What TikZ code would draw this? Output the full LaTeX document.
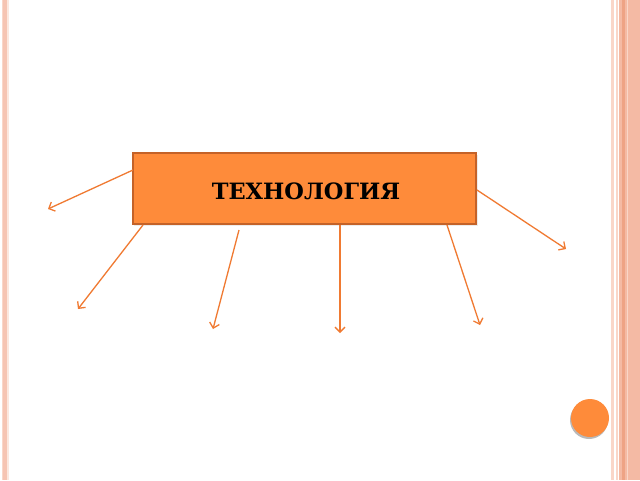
\documentclass[tikz,border=0pt]{standalone}
\usepackage{fontspec}
\newfontfamily\boxfont{DejaVu Serif}
\usetikzlibrary{arrows.meta,calc}
\definecolor{salmon}{RGB}{244,186,164}
\definecolor{salmonlight}{RGB}{250,214,200}
\definecolor{salmondark}{RGB}{238,163,133}
\definecolor{boxfill}{RGB}{254,139,58}
\definecolor{boxedge}{RGB}{196,98,40}
\definecolor{arrowc}{RGB}{240,122,50}
\begin{document}
\begin{tikzpicture}[x=1pt,y=-1pt,
  conn/.style={draw=arrowc,line width=1.3pt,-{Straight Barb[length=5pt,width=10pt]}},
  mainbox/.style={draw=boxedge,line width=1.2pt,fill=boxfill,minimum width=343pt,minimum height=71pt,inner sep=0pt},
  boxtext/.style={inner sep=0pt,font=\boxfont\bfseries\fontsize{22.5}{26}\selectfont}]
\useasboundingbox (0,0) rectangle (640,480);
\fill[white] (0,0) rectangle (640,480);
% left stripes
\fill[salmonlight] (2,0) rectangle (3,480);
\fill[salmon!85] (3,0) rectangle (7,480);
\fill[salmonlight!60] (7,0) rectangle (9,480);
% right stripes
\fill[salmonlight] (611,0) rectangle (614,480);
\fill[salmonlight] (616,0) rectangle (618,480);
\fill[salmon] (619,0) rectangle (640,480);
\fill[salmondark] (622,0) rectangle (625,480);
\fill[salmonlight] (627,0) rectangle (628,480);
% shadow of box
\fill[gray!15] (134,155) rectangle (478,226);
\node[mainbox] (box) at (304.5,188.5) {};
\node[boxtext] (label) at (306,191) {ТЕХНОЛОГИЯ};
% start and end points
\coordinate (s1) at (133,170); \coordinate (e1) at (48,209);
\coordinate (s2) at (143,225); \coordinate (e2) at (78,309);
\coordinate (s3) at (239,230); \coordinate (e3) at (213,329);
\coordinate (s4) at (340,225); \coordinate (e4) at (340,333);
\coordinate (s5) at (447,225); \coordinate (e5) at (480,325);
\coordinate (s6) at (477,190); \coordinate (e6) at (566,249);
\foreach \i in {1,...,6} { \draw[conn] (s\i) -- (e\i); }
% circle
\fill[gray!55] (589,420) circle (19);
\node[circle,fill=boxfill,minimum size=38pt,inner sep=0pt] (dot) at (590,418) {};
\end{tikzpicture}
\end{document}
